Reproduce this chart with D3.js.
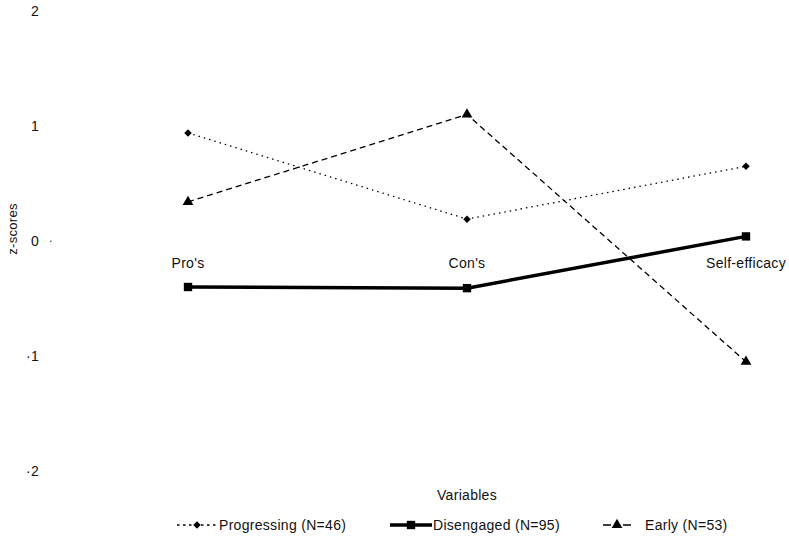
<!DOCTYPE html>
<html>
<head>
<meta charset="utf-8">
<script src="https://cdn.jsdelivr.net/npm/d3@7"></script>
<style>
  body { margin: 0; background: #fff; }
  text { font-family: "Liberation Sans", Arial, sans-serif; fill: #111; letter-spacing: 0.3px; }
</style>
</head>
<body>
<div id="chart"></div>
<script>
const width = 789;
const height = 543;

// data
const variables = ["Pro's", "Con's", "Self-efficacy"];
const yTicks = [2, 1, 0, -1, -2];
const progressing = [0.94, 0.19, 0.65];
const disengaged = [-0.40, -0.41, 0.04];
const early = [0.34, 1.10, -1.05];

const series = [
    { name: "Progressing (N=46)", values: progressing, dash: "1.5,4", width: 1.3, marker: "diamond" },
    { name: "Disengaged (N=95)", values: disengaged, dash: null, width: 3.5, marker: "square" },
    { name: "Early (N=53)", values: early, dash: "6,4", width: 1.3, marker: "triangle" }
];

const svg = d3.select("#chart").append("svg")
    .attr("width", width)
    .attr("height", height);

const x = d3.scalePoint()
    .domain(variables)
    .range([188, 746]);

const y = d3.scaleLinear()
    .domain([-2, 2])
    .range([471, 11]);

// y tick labels (no axis line drawn in the original)
svg.append("g")
    .selectAll("text")
    .data(yTicks)
    .enter()
    .append("text")
    .attr("x", 39)
    .attr("y", d => y(d))
    .attr("dy", "0.35em")
    .attr("text-anchor", "end")
    .style("font-size", "14px")
    .text(d => d < 0 ? "\u00B7" + Math.abs(d) : d);

// small tick mark at zero
svg.append("rect")
    .attr("x", 50)
    .attr("y", y(0) - 0.5)
    .attr("width", 1.5)
    .attr("height", 1.5)
    .attr("fill", "#666");

svg.append("text")
    .attr("transform", `translate(12, ${y(0) - 12}) rotate(-90)`)
    .attr("text-anchor", "middle")
    .attr("dy", "0.35em")
    .style("font-size", "13px")
    .text("z-scores");

// category labels sit just below the zero line
svg.append("g")
    .selectAll("text")
    .data(variables)
    .enter()
    .append("text")
    .attr("x", d => x(d))
    .attr("y", y(0) + 27)
    .attr("text-anchor", "middle")
    .style("font-size", "14px")
    .text(d => d);

svg.append("text")
    .attr("x", 467)
    .attr("y", 500)
    .attr("text-anchor", "middle")
    .style("font-size", "14px")
    .text("Variables");

const symbols = {
    diamond: d3.symbol().type(d3.symbolSquare).size(28),
    square: d3.symbol().type(d3.symbolSquare).size(70),
    triangle: d3.symbol().type(d3.symbolTriangle).size(50)
};
const rotation = { diamond: 45, square: 0, triangle: 0 };

const line = d3.line()
    .x((d, i) => x(variables[i]))
    .y(d => y(d));

series.forEach(s => {
    svg.append("path")
        .datum(s.values)
        .attr("d", line)
        .attr("fill", "none")
        .attr("stroke", "#000")
        .attr("stroke-width", s.width)
        .attr("stroke-dasharray", s.dash);

    svg.append("g")
        .selectAll("path")
        .data(s.values)
        .enter()
        .append("path")
        .attr("transform", (d, i) => `translate(${x(variables[i])}, ${y(d)}) rotate(${rotation[s.marker]})`)
        .attr("d", symbols[s.marker]())
        .attr("fill", "#000");
});

// legend
const legendItems = [
    { s: series[0], x1: 177, x2: 217, tx: 219, dash: "2.5,3.5" },
    { s: series[1], x1: 390, x2: 432, tx: 433, dash: null },
    { s: series[2], x1: 603, x2: 631, tx: 645, dash: "8,12" }
];
const ly = 525;

legendItems.forEach(d => {
    svg.append("line")
        .attr("x1", d.x1)
        .attr("x2", d.x2)
        .attr("y1", ly)
        .attr("y2", ly)
        .attr("stroke", "#000")
        .attr("stroke-width", d.s.width)
        .attr("stroke-dasharray", d.dash);
    svg.append("path")
        .attr("transform", `translate(${(d.x1 + d.x2) / 2}, ${ly}) rotate(${rotation[d.s.marker]})`)
        .attr("d", symbols[d.s.marker]())
        .attr("fill", "#000");
    svg.append("text")
        .attr("x", d.tx)
        .attr("y", ly)
        .attr("dy", "0.35em")
        .style("font-size", "14px")
        .text(d.s.name);
});
</script>
</body>
</html>
